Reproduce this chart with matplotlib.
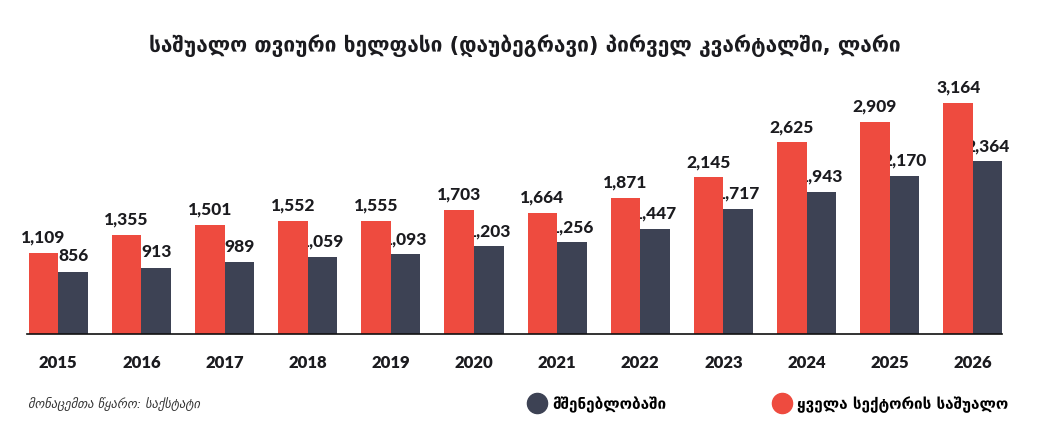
import matplotlib
matplotlib.use("Agg")
import matplotlib.pyplot as plt
from matplotlib.lines import Line2D
import numpy as np

years = ["2015", "2016", "2017", "2018", "2019", "2020", "2021", "2022", "2023", "2024", "2025", "2026"]
all_sectors = [1109, 1355, 1501, 1552, 1555, 1703, 1664, 1871, 2145, 2625, 2909, 3164]
construction = [856, 913, 989, 1059, 1093, 1203, 1256, 1447, 1717, 1943, 2170, 2364]

title = "საშუალო თვიური ხელფასი (დაუბეგრავი) პირველ კვარტალში, ლარი"
label_construction = "მშენებლობაში"
label_all = "ყველა სექტორის საშუალო"
source = "მონაცემთა წყარო: საქსტატი"

RED = "#EE4B3F"
DARK = "#3D4254"
TXT = "#1B1B1F"
NUMFONT = ["Lato", "DejaVu Sans"]

W, H = 1060, 435
fig = plt.figure(figsize=(W / 100, H / 100), dpi=100)
ax = fig.add_axes([27 / W, (H - 335.3) / H, 975 / W, 255.9 / H])

x = np.arange(len(years))
w = 0.355

# dark bars and labels below red bars
ax.bar(x + w / 2, construction, width=w, color=DARK, zorder=1)
for xi, v in zip(x, construction):
    ax.annotate(f"{v:,}", (xi + w / 2, v), xytext=(0, 6), textcoords="offset points",
                ha="center", va="bottom", fontsize=12.5, fontweight="black",
                family=NUMFONT, color=TXT, zorder=1.5)
ax.bar(x - w / 2, all_sectors, width=w, color=RED, zorder=2)
for xi, v in zip(x, all_sectors):
    ax.annotate(f"{v:,}", (xi - w / 2, v), xytext=(0, 6), textcoords="offset points",
                ha="center", va="bottom", fontsize=12.5, fontweight="black",
                family=NUMFONT, color=TXT, zorder=3)

ax.set_xlim(-0.376, 11.35)
ax.set_ylim(0, 3500)
for s in ["top", "right", "left"]:
    ax.spines[s].set_visible(False)
ax.spines["bottom"].set_linewidth(1.2)
ax.spines["bottom"].set_color("#111111")
ax.set_yticks([])
ax.set_xticks(x)
ax.set_xticklabels(years, fontsize=12, fontweight="heavy", family=NUMFONT, color=TXT)
ax.tick_params(axis="x", length=0, pad=14)

fig.text(525 / W, 1 - 46 / H, title, ha="center", va="center", fontsize=15,
         fontweight="bold", family="DejaVu Sans", color=TXT)

fig.text(28 / W, 1 - 404 / H, source, ha="left", va="center", fontsize=9,
         style="italic", family="DejaVu Sans", color="#333333")

handles = [Line2D([], [], marker="o", linestyle="none", markersize=14.5, color=DARK),
           Line2D([], [], marker="o", linestyle="none", markersize=14.5, color=RED)]
fig.legend(handles, [label_construction, label_all], ncol=2, frameon=False,
           loc="center left", bbox_to_anchor=(529 / W, 1 - 405 / H),
           prop={"family": "DejaVu Sans", "weight": "bold", "size": 11},
           handlelength=1.0, handletextpad=0.5, columnspacing=7.1, borderaxespad=0,
           borderpad=0)

fig.savefig("out.png", dpi=100)
